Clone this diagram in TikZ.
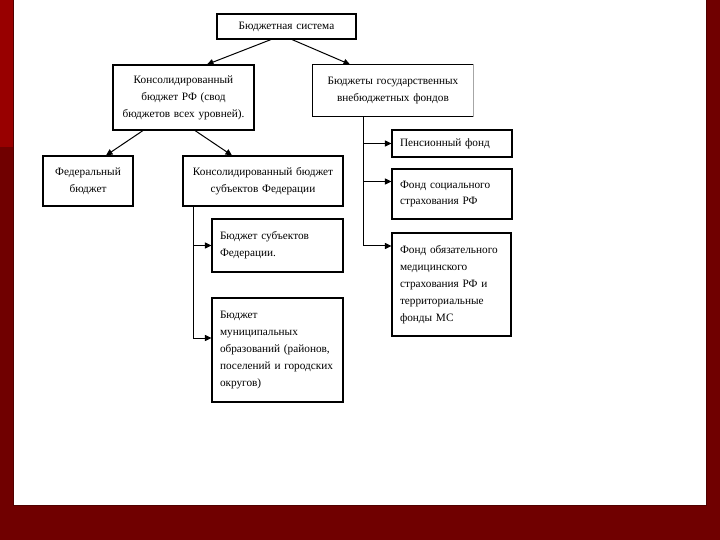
\documentclass[tikz,border=0pt]{standalone}
\usepackage{fontspec}
\setmainfont{Liberation Serif}
\usetikzlibrary{arrows.meta}
\definecolor{bgred}{HTML}{700000}
\definecolor{topred}{HTML}{980000}
\definecolor{edgered}{HTML}{500000}
\tikzset{
  box/.style={draw=black, line width=1.1bp, fill=white, inner ysep=0pt,
    font=\fontsize{11.3}{17}\selectfont},
  cbox/.style={box, align=center, inner xsep=4bp},
  lbox/.style={box, align=left, inner xsep=8bp},
  conn/.style={draw=black, line width=1bp, -{Triangle[length=6.5bp,width=6bp]}},
  trunk/.style={draw=black, line width=1bp}
}
\begin{document}
\begin{tikzpicture}[x=1bp, y=-1bp]
\useasboundingbox (0,0) rectangle (720,540);
% slide background
\fill[bgred] (0,0) rectangle (720,540);
\fill[topred] (0,0) rectangle (13,147);
\fill[white] (14,0) rectangle (706,505);
\draw[edgered, line width=1bp] (13.5,-1) -- (13.5,505.5) -- (706.5,505.5) -- (706.5,-1);

% boxes
\node[cbox, text width=131bp, minimum height=25bp] (top) at (286.5,26.5) {Бюджетная система};
\node[cbox, text width=133bp, minimum height=65bp] (cons) at (183.5,97.5)
  {Консолидированный\\бюджет РФ (свод\\бюджетов всех уровней).};
\node[cbox, text width=152bp, minimum height=51bp, draw=none] (funds) at (393,90.5)
  {Бюджеты государственных\\внебюджетных фондов};
\draw[black, line width=1.1bp] (funds.north east) -- (funds.north west) -- (funds.south west) -- (funds.south east);
\draw[black!35, line width=1bp] (funds.north east) -- (funds.south east);
\node[cbox, text width=82bp, minimum height=50bp] (fed) at (88,181)
  {Федеральный\\бюджет};
\node[cbox, text width=152bp, minimum height=50bp] (subj) at (263,181)
  {Консолидированный бюджет\\субъектов Федерации};
\node[lbox, text width=115bp, minimum height=53bp] (b6) at (277.5,245.5)
  {Бюджет субъектов\\Федерации.};
\node[lbox, text width=115bp, minimum height=104bp] (b7) at (277.5,350)
  {Бюджет\\муниципальных\\образований (районов,\\поселений и городских\\округов)};
\node[lbox, text width=104bp, minimum height=27bp] (pens) at (452,143.5)
  {Пенсионный фонд};
\node[lbox, text width=104bp, minimum height=50bp] (soc) at (452,194)
  {Фонд социального\\страхования РФ};
\node[lbox, text width=103bp, minimum height=103bp] (med) at (451.5,284.5)
  {Фонд обязательного\\медицинского\\страхования РФ и\\территориальные\\фонды МС};

% connectors
\draw[conn] ([xshift=-15.5bp]top.south) -- ([xshift=23.5bp]cons.north);
\draw[conn] ([xshift=5.5bp]top.south) -- ([xshift=-43bp]funds.north);
\draw[conn] ([xshift=-40.5bp]cons.south) -- ([xshift=18bp]fed.north);
\draw[conn] ([xshift=11.5bp]cons.south) -- ([xshift=-31bp]subj.north);

\coordinate (ltrunk) at ([xshift=-70bp]subj.south);
\draw[conn] (ltrunk) |- (b6.west);
\draw[conn] (ltrunk) |- ([yshift=12bp]b7.west);

\coordinate (rtrunk) at ([xshift=-30bp]funds.south);
\draw[conn] (rtrunk) |- (pens.west);
\draw[conn] (rtrunk) |- ([yshift=12.5bp]soc.west);
\draw[conn] (rtrunk) |- ([yshift=38.5bp]med.west);
\end{tikzpicture}
\end{document}
